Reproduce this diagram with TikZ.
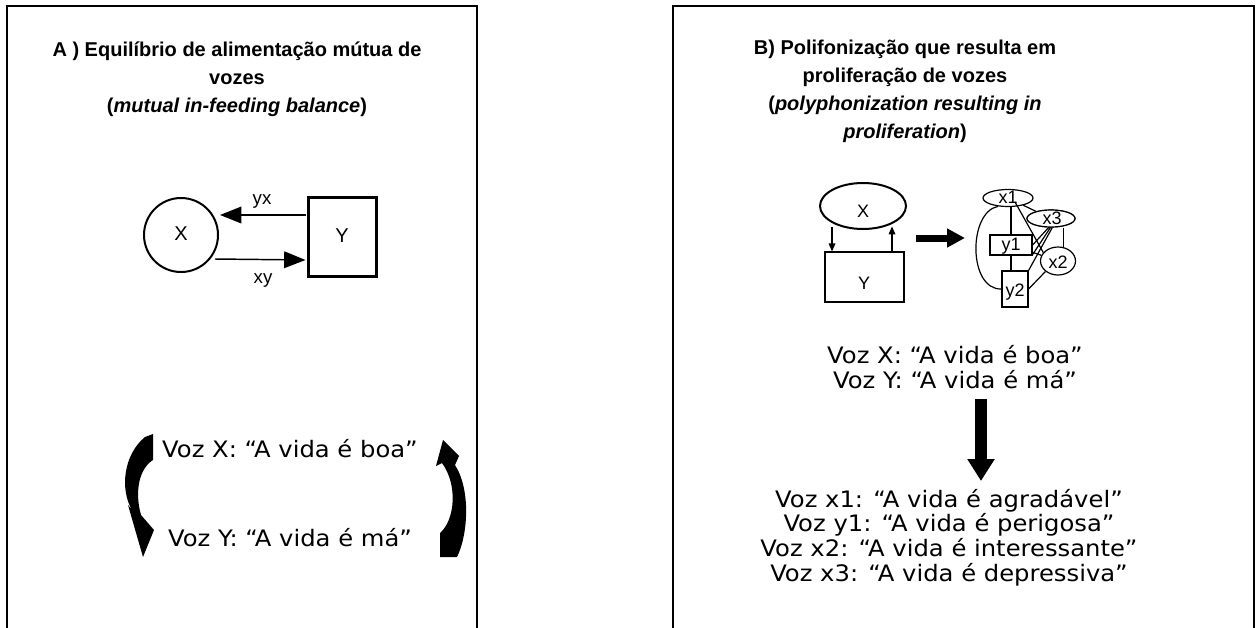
\documentclass[tikz,border=0pt]{standalone}
\usepackage{fontspec}
\setmainfont{Liberation Sans}
\newfontfamily\ttlfont{Liberation Sans}
\newfontfamily\vozfont{DejaVu Sans}[FakeStretch=1.07]
\usetikzlibrary{arrows.meta,shapes.geometric,calc}
\begin{document}
\begin{tikzpicture}[x=0.75pt,y=-0.75pt,
  frame/.style={line width=1.6pt},
  ttl/.style={font=\ttlfont\bfseries\fontsize{15pt}{21pt}\selectfont, align=center, anchor=base, inner sep=0pt},
  voz/.style={font=\vozfont\fontsize{17pt}{18.5pt}\selectfont, align=center, anchor=base, inner sep=0pt},
  biglab/.style={font=\fontsize{15pt}{16pt}\selectfont, inner sep=0pt},
  smlab/.style={font=\fontsize{14pt}{15pt}\selectfont, inner sep=0pt},
  netlab/.style={font=\fontsize{13.5pt}{14pt}\selectfont, inner sep=0pt},
  arrA/.style={line width=1.1pt, -{Triangle[length=16pt,width=12.5pt]}},
  arrS/.style={line width=0.9pt, -{Triangle[length=6pt,width=5pt]}},
  net/.style={line width=0.9pt},
  nodeell/.style={draw, ellipse, line width=0.9pt, inner sep=0pt},
  nodebox/.style={draw, rectangle, line width=0.9pt, inner sep=0pt}
]
\useasboundingbox (0,0) rectangle (1257,628);
\fill[white] (0,0) rectangle (1257,628);

% frames
\draw[frame] (7,630) -- (7,6) -- (477,6) -- (477,630);
\draw[frame] (673,630) -- (673,6) -- (1254,6) -- (1254,630);

% titles (anchor base = baseline of last line)
\node[ttl] (tA) at (237,112) {A ) Equilíbrio de alimentação mútua de\\vozes\\(\textit{mutual in-feeding balance})};
\node[ttl] (tB) at (905,138) {B) Polifonização que resulta em\\proliferação de vozes\\(\textit{polyphonization resulting in}\\\textit{proliferation})};

% ---- Panel A diagram
\node[draw, circle, line width=1.5pt, minimum size=55.5pt, inner sep=0pt] (X) at (181,235) {};
\node[biglab] at (181,234) {X};
\node[draw, rectangle, line width=2.25pt, minimum width=51pt, minimum height=59.25pt, inner sep=0pt] (Y) at (342,236.5) {};
\node[biglab] at (342,236) {Y};
\draw[arrA] ($(Y.west)+(-1,-21.5)$) -- ($(X.center)+(39,-20)$);
\draw[arrA] ($(X.center)+(34,24)$) -- ($(Y.west)+(-1,23.5)$);
\node[smlab] (lyx) at (262,202) {yx};
\node[smlab] (lxy) at (263,281) {xy};

% ---- Panel A texts
\node[voz] (vAx) at (290,457) {Voz X: “A vida é boa”};
\node[voz] (vAy) at (290,546) {Voz Y: “A vida é má”};
% curved arrows
\fill (145,437) -- (153,434) -- (153,460) .. controls (140,468) and (134,490) .. (141,515)
  -- (154,530) -- (143,557) -- (128,505) -- (132,510) .. controls (120,490) and (123,455) .. (145,437) -- cycle;
\fill (440,557) -- (457,557) .. controls (468,535) and (471,490) .. (455,465)
  -- (459,456) -- (443,440) -- (436,466) -- (442,463) .. controls (458,485) and (455,520) .. (440,533) -- cycle;

% ---- Panel B diagram (left)
\node[draw, ellipse, line width=1.5pt, minimum width=64.5pt, minimum height=34.5pt, inner sep=0pt] (BX) at (863,206) {};
\node[netlab] at (863,211) {X};
\node[draw, rectangle, line width=0.9pt, minimum width=59.25pt, minimum height=37.5pt, inner sep=0pt] (BY) at (864.5,277) {};
\node[netlab] at (864,283) {Y};
\draw[arrS] (BY.north -| 832,0) ++(0,-24) -- (BY.north -| 832,0);
\draw[arrS] (BY.north -| 892,0) -- ++(0,-25);
\draw[line width=5.25pt, -{Triangle[length=13.5pt,width=13.5pt]}] (916,238) -- (965,238);

% ---- network
\node[nodeell, minimum width=37.5pt, minimum height=12.75pt] (x1) at (1008,198) {};
\node[netlab] at (1008,197) {x1};
\node[nodeell, minimum width=36pt, minimum height=12.75pt, fill=white] (x3) at (1051,218.5) {};
\node[nodeell, minimum width=26.25pt, minimum height=21pt] (x2) at (1058,261) {};
\node[nodebox, minimum width=31.5pt, minimum height=15pt] (y1) at (1011,245) {};
\node[nodebox, minimum width=19.5pt, minimum height=27pt] (y2) at (1015,289) {};
\draw[net] (x1) -- (x3);
\node[nodeell, minimum width=36pt, minimum height=12.75pt, fill=white] at (1051,218.5) {};
\node[netlab] at (1052,218) {x3};
\node[netlab] at (1058,262) {x2};
\node[netlab] at (1011,246) {y1};
\node[netlab] at (1015,292) {y2};
\draw[net] (y1.north) -- (y1.north |- x1.south);
\draw[net] (y1.south) -- (y1.south |- y2.north);
\draw[net] ($(x1.center)+(7,4)$) -- (x2.150);
\draw[net] (x1.220) .. controls (968,212) and (968,290) .. (y2.west);
\draw[net] (x3.255) -- (y1.east);
\draw[net] (x3.266) -- ($(y1.south east)+(0,-1)$);
\draw[net] (x3.278) -- (y2.north east);
\draw[net] (x2.70) -- (x2.70 |- x3.south);
\draw[net] (y1) -- (x2);
\draw[net] (y2.east) -- (x2.220);

% ---- Panel B texts
\node[voz] (vBxy) at (955,388) {Voz X: “A vida é boa”\\Voz Y: “A vida é má”};
\coordinate (dA) at (981,399);
\coordinate (dB) at (981,481);
\draw[line width=9pt, -{Triangle[length=16.5pt,width=19.5pt]}] (dA) -- (dB);
\node[voz] (vBl) at (949,581) {Voz x1: “A vida é agradável”\\Voz y1: “A vida é perigosa”\\Voz x2: “A vida é interessante”\\Voz x3: “A vida é depressiva”};
\end{tikzpicture}
\end{document}
